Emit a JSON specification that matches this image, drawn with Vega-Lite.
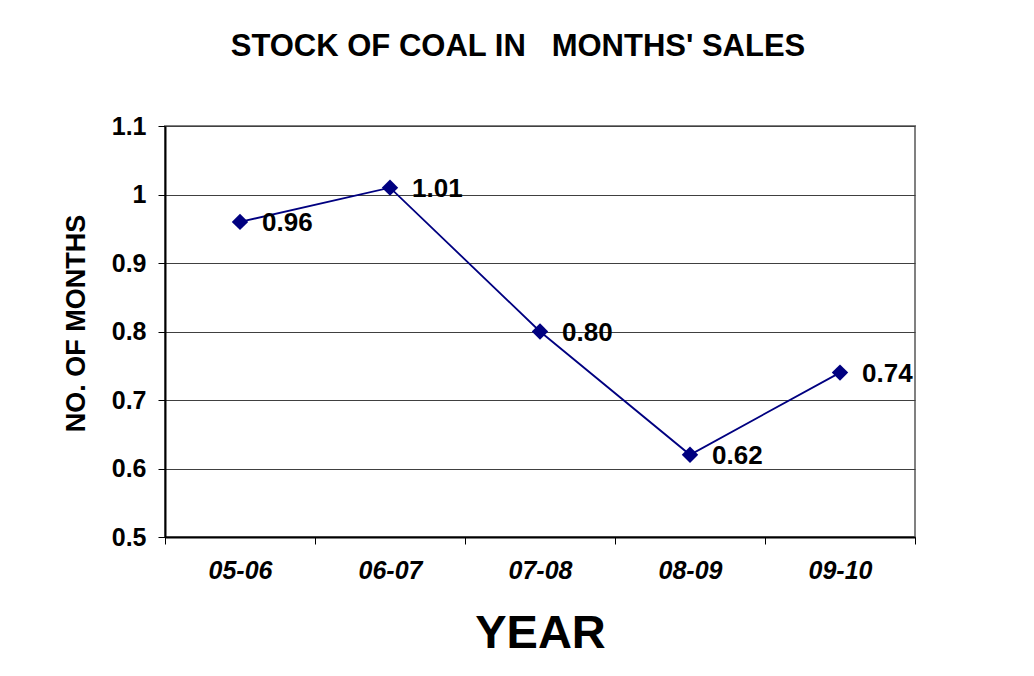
{
  "$schema": "https://vega.github.io/schema/vega-lite/v6.json",
  "autosize": "none",
  "width": 750,
  "height": 411,
  "padding": {"left": 165, "top": 126, "right": 119, "bottom": 139},
  "background": "white",
  "title": {
    "text": "STOCK OF COAL IN\u00a0\u00a0\u00a0MONTHS' SALES",
    "font": "Liberation Sans",
    "fontSize": 31,
    "fontWeight": "bold",
    "color": "black",
    "anchor": "middle",
    "baseline": "alphabetic",
    "offset": 27,
    "dx": -22
  },
  "config": {
    "view": {"stroke": "#808080", "strokeWidth": 2},
    "font": "Liberation Sans"
  },
  "data": {
    "values": [
      {"year": "05-06", "value": 0.96, "label": "0.96"},
      {"year": "06-07", "value": 1.01, "label": "1.01"},
      {"year": "07-08", "value": 0.80, "label": "0.80"},
      {"year": "08-09", "value": 0.62, "label": "0.62"},
      {"year": "09-10", "value": 0.74, "label": "0.74"}
    ]
  },
  "encoding": {
    "x": {
      "field": "year",
      "type": "ordinal",
      "sort": null,
      "scale": {"type": "band", "paddingInner": 0, "paddingOuter": 0},
      "axis": {
        "title": "YEAR",
        "titleFont": "Liberation Sans",
        "titleFontSize": 47,
        "titleFontWeight": "bold",
        "titleColor": "black",
        "titleBaseline": "alphabetic",
        "titleY": 110,
        "labelAngle": 0,
        "labelFont": "Liberation Sans",
        "labelFontSize": 25,
        "labelFontWeight": "bold",
        "labelFontStyle": "italic",
        "labelColor": "black",
        "labelPadding": 14,
        "tickBand": "extent",
        "tickSize": 7,
        "tickColor": "black",
        "domainColor": "black",
        "domainWidth": 2,
        "grid": false
      }
    },
    "y": {
      "field": "value",
      "type": "quantitative",
      "scale": {"domain": [0.5, 1.1], "nice": false, "zero": false},
      "axis": {
        "title": "NO. OF MONTHS",
        "titleFont": "Liberation Sans",
        "titleFontSize": 27,
        "titleFontWeight": "bold",
        "titleColor": "black",
        "titleAngle": -90,
        "titleAlign": "center",
        "titleBaseline": "middle",
        "titleX": -89,
        "titleY": 197,
        "values": [0.5, 0.6, 0.7, 0.8, 0.9, 1.0, 1.1],
        "format": ".1~f",
        "labelFont": "Liberation Sans",
        "labelFontSize": 25,
        "labelFontWeight": "bold",
        "labelColor": "black",
        "labelPadding": 12,
        "tickSize": 7,
        "tickColor": "black",
        "domainColor": "black",
        "domainWidth": 2,
        "grid": true,
        "gridColor": "#404040",
        "gridWidth": 1,
        "gridOpacity": 1
      }
    }
  },
  "layer": [
    {"mark": {"type": "line", "color": "#000080", "strokeWidth": 1.8}},
    {"mark": {"type": "point", "shape": "diamond", "filled": true, "color": "#000080", "size": 270, "opacity": 1}},
    {
      "mark": {"type": "text", "align": "left", "baseline": "middle", "dx": 22, "dy": 1, "font": "Liberation Sans", "fontSize": 26, "fontWeight": "bold", "color": "black"},
      "encoding": {"text": {"field": "label"}}
    }
  ]
}
